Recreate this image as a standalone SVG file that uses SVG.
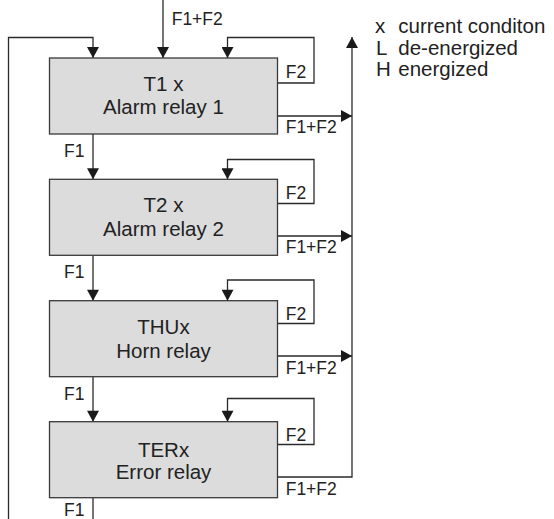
<svg xmlns="http://www.w3.org/2000/svg" width="554" height="519" viewBox="0 0 554 519">
  <style>
    .box { fill: #dcdcdc; stroke: #3a3a3a; stroke-width: 1.3; }
    .ln { fill: none; stroke: #2a2a2a; stroke-width: 1.3; }
    .t { font-family: "Liberation Sans", Arial, sans-serif; fill: #222222; }
    .big { font-size: 20.5px; }
    .lbl { font-size: 17.5px; }
    .mid { text-anchor: middle; }
  </style>
  <defs>
    <marker id="arr" markerUnits="userSpaceOnUse" markerWidth="12" markerHeight="12" viewBox="0 0 11 12" refX="11" refY="6" orient="auto">
      <path d="M0,0 L11,6 L0,12 z" fill="#1a1a1a"/>
    </marker>
  </defs>

  <g id="connectors">
    <!-- top input -->
    <path class="ln" d="M163,0 V58" marker-end="url(#arr)"/>
    <!-- left feedback -->
    <path class="ln" d="M8.5,519 V37.5 H93 V58" marker-end="url(#arr)"/>
    <!-- F2 loops -->
    <path class="ln" d="M277.5,83 H314 V37.5 H227.5 V58" marker-end="url(#arr)"/>
    <path class="ln" d="M277.5,203.5 H314 V159.5 H227.5 V179.3" marker-end="url(#arr)"/>
    <path class="ln" d="M277.5,323.5 H314 V280 H227.5 V300.7" marker-end="url(#arr)"/>
    <path class="ln" d="M277.5,444.5 H314 V398.5 H227.5 V421.7" marker-end="url(#arr)"/>
    <!-- F1+F2 outputs -->
    <path class="ln" d="M277.5,116 H352" marker-end="url(#arr)"/>
    <path class="ln" d="M277.5,236 H352" marker-end="url(#arr)"/>
    <path class="ln" d="M277.5,356 H352" marker-end="url(#arr)"/>
    <path class="ln" d="M277.5,477 H352 V37" marker-end="url(#arr)"/>
    <!-- F1 chain -->
    <path class="ln" d="M93,134 V179.3" marker-end="url(#arr)"/>
    <path class="ln" d="M93,255.3 V300.7" marker-end="url(#arr)"/>
    <path class="ln" d="M93,376.7 V421.7" marker-end="url(#arr)"/>
    <path class="ln" d="M93,497.7 V519"/>
  </g>

  <g id="labels">
    <text class="t lbl" x="171.7" y="25">F1+F2</text>
    <text class="t lbl" x="285.7" y="77.5">F2</text>
    <text class="t lbl" x="285.7" y="133">F1+F2</text>
    <text class="t lbl" x="64" y="156.5">F1</text>
    <text class="t lbl" x="285.7" y="198.5">F2</text>
    <text class="t lbl" x="285.7" y="253">F1+F2</text>
    <text class="t lbl" x="64" y="278">F1</text>
    <text class="t lbl" x="285.7" y="320">F2</text>
    <text class="t lbl" x="285.7" y="373.5">F1+F2</text>
    <text class="t lbl" x="64" y="400">F1</text>
    <text class="t lbl" x="285.7" y="441">F2</text>
    <text class="t lbl" x="285.7" y="495">F1+F2</text>
    <text class="t lbl" x="64" y="516">F1</text>
  </g>

  <g id="node-t1">
    <rect class="box" x="49.5" y="58" width="228" height="76"/>
    <text class="t big mid" x="163.5" y="90.7">T1 x</text>
    <text class="t big mid" x="163.5" y="114">Alarm relay 1</text>
  </g>
  <g id="node-t2">
    <rect class="box" x="49.5" y="179.3" width="228" height="76"/>
    <text class="t big mid" x="163.5" y="212.3">T2 x</text>
    <text class="t big mid" x="163.5" y="236">Alarm relay 2</text>
  </g>
  <g id="node-thu">
    <rect class="box" x="49.5" y="300.7" width="228" height="76"/>
    <text class="t big mid" x="163.5" y="334">THUx</text>
    <text class="t big mid" x="163.5" y="357.5">Horn relay</text>
  </g>
  <g id="node-ter">
    <rect class="box" x="49.5" y="421.7" width="228" height="76"/>
    <text class="t big mid" x="163.5" y="456.7">TERx</text>
    <text class="t big mid" x="163.5" y="478.5">Error relay</text>
  </g>

  <g id="legend">
    <text class="t big" x="375" y="32.5">x</text>
    <text class="t big" x="398.3" y="32.5">current conditon</text>
    <text class="t big" x="376" y="54.5">L</text>
    <text class="t big" x="398.3" y="54.5">de-energized</text>
    <text class="t big" x="376" y="75.5">H</text>
    <text class="t big" x="398.3" y="75.5">energized</text>
  </g>
</svg>
